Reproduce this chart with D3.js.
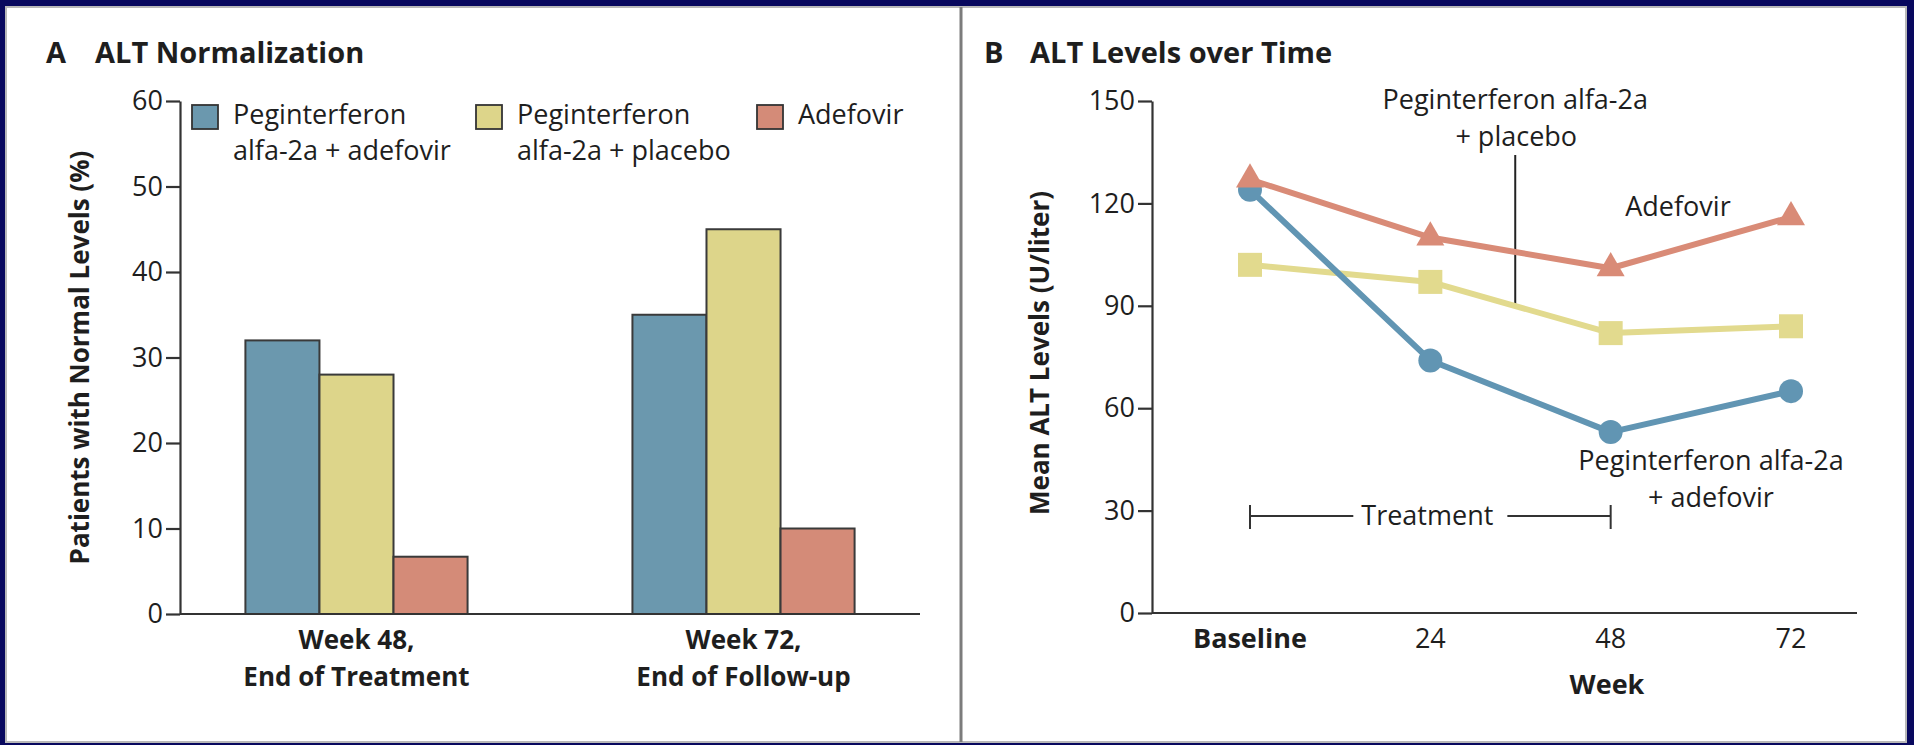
<!DOCTYPE html>
<html><head><meta charset="utf-8">
<script src="https://cdn.jsdelivr.net/npm/d3@7/dist/d3.min.js"></script>
<style>
html,body{margin:0;padding:0;background:#08085e;}
svg{display:block;}
text{font-family:"Open Sans",sans-serif;fill:#1e1e1e;}
</style></head><body>
<svg id="chart" width="1914" height="745"></svg>
<script>
// ---------- Data ----------
const barCategories = [["Week 48,", "End of Treatment"], ["Week 72,", "End of Follow-up"]];
const legendLines = [["Peginterferon", "alfa-2a + adefovir"], ["Peginterferon", "alfa-2a + placebo"], ["Adefovir"]];
const comboNormal = [32, 35];      // Peginterferon alfa-2a + adefovir (%)
const placeboNormal = [28, 45];    // Peginterferon alfa-2a + placebo (%)
const adefovirNormal = [6.7, 10];  // Adefovir (%)
const barTicks = [0, 10, 20, 30, 40, 50, 60];

const weeks = [0, 24, 48, 72];
const weekLabels = ["Baseline", "24", "48", "72"];
const comboALT = [124, 74, 53, 65];
const placeboALT = [102, 97, 82, 84];
const adefovirALT = [127, 110, 101, 116];
const altTicks = [0, 30, 60, 90, 120, 150];

const barColors = ["#6b98ae", "#ddd58a", "#d48b78"];
const lineColors = ["#6195b3", "#e2da8e", "#d98b77"];

// ---------- Frame ----------
const svg = d3.select("#chart");
svg.append("rect").attr("width", 1914).attr("height", 745).attr("fill", "#08085e");
svg.append("rect").attr("x", 6).attr("y", 7).attr("width", 1900).attr("height", 735)
  .attr("fill", "#fff").attr("stroke", "#b8b8b8").attr("stroke-width", 2);
svg.append("line").attr("x1", 961).attr("x2", 961).attr("y1", 7).attr("y2", 742)
  .attr("stroke", "#7c7c7c").attr("stroke-width", 3);

const axisColor = "#333";
function styleAxis(g) {
  g.select(".domain").attr("stroke", axisColor).attr("stroke-width", 2.2);
  g.selectAll(".tick line").attr("stroke", axisColor).attr("stroke-width", 2.2);
  g.selectAll(".tick text").attr("font-size", 27).attr("font-family", "Open Sans").attr("fill", "#262626");
}

// ---------- Panel A ----------
const A = svg.append("g");
A.append("text").attr("x", 46).attr("y", 63).attr("font-size", 29).attr("font-weight", 700).text("A");
A.append("text").attr("x", 95).attr("y", 63).attr("font-size", 29).attr("font-weight", 700).text("ALT Normalization");

const yA = d3.scaleLinear().domain([0, 60]).range([614, 101]);
const xA = d3.scaleBand().domain(d3.range(barCategories.length)).range([180, 920])
  .paddingInner(0.426).paddingOuter(0.169);
const barSeries = [comboNormal, placeboNormal, adefovirNormal];
const xAin = d3.scaleBand().domain(d3.range(barSeries.length)).range([0, xA.bandwidth()]);

barSeries.forEach((vals, s) => {
  A.append("g").selectAll("rect").data(vals).join("rect")
    .attr("x", (d, i) => xA(i) + xAin(s))
    .attr("y", d => yA(d))
    .attr("width", xAin.bandwidth())
    .attr("height", d => yA(0) - yA(d))
    .attr("fill", barColors[s]).attr("stroke", "#3a3a3a").attr("stroke-width", 2);
});

const yAxisA = A.append("g").attr("transform", "translate(180,0)")
  .call(d3.axisLeft(yA).tickValues(barTicks).tickSize(14).tickSizeOuter(0).tickPadding(3));
styleAxis(yAxisA);
A.append("line").attr("x1", 180).attr("x2", 920).attr("y1", yA(0)).attr("y2", yA(0))
  .attr("stroke", axisColor).attr("stroke-width", 2.2);

barCategories.forEach((lines, i) => {
  const t = A.append("text").attr("text-anchor", "middle").attr("font-size", 26).attr("font-weight", 700);
  lines.forEach((l, k) => t.append("tspan").attr("x", xA(i) + xA.bandwidth() / 2).attr("y", 649 + k * 37).text(l));
});

A.append("text").attr("transform", "translate(89," + ((yA(0) + yA(60)) / 2) + ") rotate(-90)")
  .attr("text-anchor", "middle").attr("font-size", 26).attr("font-weight", 700)
  .text("Patients with Normal Levels (%)");

// legend
const legendX = [192, 476, 757];
legendLines.forEach((lines, s) => {
  A.append("rect").attr("x", legendX[s]).attr("y", 105).attr("width", 26).attr("height", 24)
    .attr("fill", barColors[s]).attr("stroke", "#333").attr("stroke-width", 1.8);
  const t = A.append("text").attr("font-size", 27);
  lines.forEach((l, k) => t.append("tspan").attr("x", legendX[s] + 41).attr("y", 124 + k * 36).text(l));
});

// ---------- Panel B ----------
const B = svg.append("g");
B.append("text").attr("x", 984).attr("y", 63).attr("font-size", 29).attr("font-weight", 700).text("B");
B.append("text").attr("x", 1030).attr("y", 63).attr("font-size", 29).attr("font-weight", 700).text("ALT Levels over Time");

const yB = d3.scaleLinear().domain([0, 150]).range([613, 101]);
const xB = d3.scaleLinear().domain([0, 72]).range([1250, 1791]);
const axisLeftB = 1152, axisRightB = 1857;

const yAxisB = B.append("g").attr("transform", "translate(" + axisLeftB + ",0)")
  .call(d3.axisLeft(yB).tickValues(altTicks).tickSize(14).tickSizeOuter(0).tickPadding(3));
styleAxis(yAxisB);
B.append("line").attr("x1", axisLeftB).attr("x2", axisRightB).attr("y1", yB(0)).attr("y2", yB(0))
  .attr("stroke", axisColor).attr("stroke-width", 2.2);

B.selectAll("text.wk").data(weeks).join("text").attr("class", "wk")
  .attr("x", d => xB(d)).attr("y", 648).attr("text-anchor", "middle").attr("font-size", 27)
  .attr("font-weight", (d, i) => i === 0 ? 700 : 400)
  .text((d, i) => weekLabels[i]);
B.append("text").attr("x", 1607).attr("y", 694).attr("text-anchor", "middle")
  .attr("font-size", 27).attr("font-weight", 700).text("Week");

B.append("text").attr("transform", "translate(1049," + ((yB(0) + yB(150)) / 2 - 4) + ") rotate(-90)")
  .attr("text-anchor", "middle").attr("font-size", 26).attr("font-weight", 700)
  .text("Mean ALT Levels (U/liter)");

// Treatment bracket
const brY = 516;
const tr = B.append("text").attr("x", xB(24) - 3).attr("y", brY + 9).attr("text-anchor", "middle")
  .attr("font-size", 27).text("Treatment");
const bb = tr.node().getBBox();
const br = B.append("g").attr("stroke", "#333").attr("stroke-width", 2);
br.append("line").attr("x1", xB(0)).attr("x2", bb.x - 8).attr("y1", brY).attr("y2", brY);
br.append("line").attr("x1", bb.x + bb.width + 14).attr("x2", xB(48)).attr("y1", brY).attr("y2", brY);
br.append("line").attr("x1", xB(0)).attr("x2", xB(0)).attr("y1", brY - 11).attr("y2", brY + 13);
br.append("line").attr("x1", xB(48)).attr("x2", xB(48)).attr("y1", brY - 11).attr("y2", brY + 13);

// placebo annotation
const annWeek = 35.3;
const annY = placeboALT[1] + (placeboALT[2] - placeboALT[1]) * (annWeek - 24) / 24;
B.append("line").attr("x1", xB(annWeek)).attr("x2", xB(annWeek)).attr("y1", 155).attr("y2", yB(annY))
  .attr("stroke", "#222").attr("stroke-width", 2);
const pa = B.append("text").attr("text-anchor", "middle").attr("font-size", 27);
pa.append("tspan").attr("x", xB(annWeek)).attr("y", 109).text("Peginterferon alfa-2a");
pa.append("tspan").attr("x", xB(annWeek) + 1).attr("y", 146).text("+ placebo");

B.append("text").attr("x", 1678).attr("y", 216).attr("text-anchor", "middle").attr("font-size", 27).text("Adefovir");
const ca = B.append("text").attr("text-anchor", "middle").attr("font-size", 27);
ca.append("tspan").attr("x", 1711).attr("y", 470).text("Peginterferon alfa-2a");
ca.append("tspan").attr("x", 1711).attr("y", 507).text("+ adefovir");

// lines
const lineGen = d3.line().x((d, i) => xB(weeks[i])).y(d => yB(d));
const order = [
  { vals: placeboALT, color: lineColors[1], shape: "square" },
  { vals: comboALT, color: lineColors[0], shape: "circle" },
  { vals: adefovirALT, color: lineColors[2], shape: "triangle" }
];
order.forEach(s => {
  B.append("path").datum(s.vals).attr("d", lineGen).attr("fill", "none")
    .attr("stroke", s.color).attr("stroke-width", 6).attr("stroke-linejoin", "round");
});
order.forEach(s => {
  const g = B.append("g").attr("fill", s.color);
  s.vals.forEach((v, i) => {
    const cx = xB(weeks[i]), cy = yB(v);
    if (s.shape === "circle") {
      g.append("circle").attr("cx", cx).attr("cy", cy).attr("r", 12);
    } else if (s.shape === "square") {
      g.append("rect").attr("x", cx - 12).attr("y", cy - 12).attr("width", 24).attr("height", 24);
    } else {
      g.append("path").attr("transform", "translate(" + cx + "," + cy + ")")
        .attr("d", d3.symbol(d3.symbolTriangle, 340)());
    }
  });
});
</script>
</body></html>
